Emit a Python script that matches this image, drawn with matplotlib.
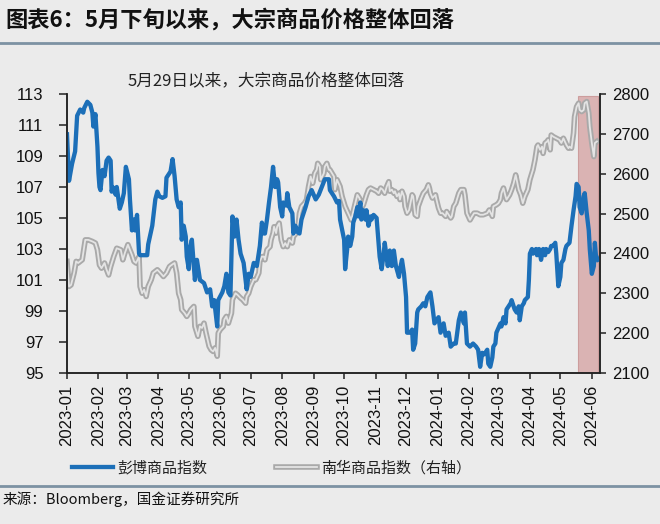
import numpy as np
import pandas as pd
import matplotlib
matplotlib.use("Agg")
import matplotlib.pyplot as plt
import matplotlib.dates as mdates
import matplotlib.patheffects as pe
from matplotlib.lines import Line2D

plt.rcParams['font.family'] = ['Liberation Sans', 'Noto Sans CJK SC', 'DejaVu Sans']

# days counted from 2023-01-01
bcom_day = [0, 2, 5, 8, 10, 13, 16, 17, 20, 23, 25, 26, 28, 30, 31, 32, 33, 35, 37, 39,
            41, 43, 44, 45, 48, 49, 52, 54, 56, 58, 61, 62, 64, 66, 67, 69, 71, 72, 75, 79,
            80, 84, 87, 89, 91, 94, 97, 98, 102, 104, 106, 108, 110, 112, 113, 115, 117, 118, 120, 121,
            123, 125, 126, 128, 131, 135, 138, 141, 143, 145, 148, 149, 153, 155, 157, 159, 161, 163, 165, 167,
            169, 171, 174, 177, 179, 181, 184, 187, 190, 192, 194, 195, 197, 199, 201, 203, 205, 207, 208, 210,
            212, 213, 216, 217, 219, 222, 223, 225, 227, 229, 231, 235, 238, 241, 245, 248, 251, 254, 258, 259,
            263, 266, 268, 269, 273, 274, 276, 277, 279, 281, 282, 284, 286, 287, 289, 290, 292, 294, 295, 297,
            299, 300, 302, 305, 308, 310, 312, 313, 316, 318, 320, 322, 324, 327, 328, 330, 332, 334, 335, 338,
            340, 341, 343, 345, 346, 349, 351, 353, 355, 358, 360, 362, 364, 366, 368, 371, 373, 376, 378, 381,
            383, 386, 388, 391, 392, 394, 397, 400, 403, 405, 407, 409, 411, 414, 415, 417, 419, 420, 422, 423,
            427, 428, 430, 432, 433, 437, 438, 440, 441, 443, 445, 446, 448, 450, 451, 454, 455, 456, 458, 459,
            462, 463, 465, 467, 469, 471, 472, 474, 476, 477, 479, 481, 482, 484, 486, 487, 489, 491, 492, 495,
            497, 499, 501, 502, 504, 505, 507, 509, 510, 512, 514, 515, 517, 519, 520, 521, 523]
bcom_val = [110.4, 107.4, 108.5, 109.3, 111.6, 112.0, 111.8, 112.1, 112.5, 112.3, 111.8, 110.9, 111.7, 109.6, 107.9, 107.0, 106.8, 108.1, 107.7, 108.7,
            108.9, 108.7, 106.7, 107.0, 106.5, 107.0, 105.6, 106.0, 106.6, 108.3, 107.5, 106.2, 104.2, 104.9, 104.2, 105.2, 102.7, 102.6, 102.6, 102.6,
            103.3, 104.5, 106.2, 106.7, 106.4, 106.3, 106.4, 107.6, 108.0, 108.8, 107.7, 106.2, 105.7, 106.0, 103.6, 104.5, 103.8, 102.5, 101.7, 103.0,
            103.6, 101.9, 101.0, 102.3, 101.0, 100.8, 100.2, 100.4, 99.3, 99.7, 98.0, 99.7, 100.2, 100.6, 101.4, 100.2, 100.0, 105.1, 103.8, 104.9,
            103.6, 102.7, 102.1, 100.4, 101.4, 101.2, 102.1, 101.9, 103.2, 104.7, 104.0, 104.0, 104.9, 106.0, 107.0, 108.3, 107.0, 107.5, 107.3, 105.7,
            105.1, 106.0, 105.8, 106.6, 105.7, 105.3, 104.0, 104.5, 104.1, 104.0, 104.9, 105.7, 106.4, 106.8, 106.2, 106.5, 107.0, 107.5, 107.5, 106.8,
            106.4, 106.0, 106.1, 104.9, 103.6, 101.7, 103.0, 103.8, 103.2, 103.8, 104.7, 105.1, 105.7, 105.1, 106.0, 104.9, 105.5, 104.9, 105.5, 104.5,
            105.1, 104.9, 105.2, 105.0, 102.5, 101.7, 102.7, 103.4, 101.9, 102.9, 101.9, 102.9, 101.9, 101.2, 101.7, 102.3, 101.4, 99.9, 97.6, 97.6,
            97.8, 96.5, 96.9, 98.9, 99.1, 99.3, 99.5, 99.3, 99.9, 100.2, 99.3, 98.2, 98.4, 98.6, 97.6, 98.2, 97.4, 97.6, 96.7, 96.9,
            96.9, 98.4, 98.9, 98.2, 98.9, 96.9, 96.7, 96.9, 96.7, 96.5, 95.4, 96.3, 96.2, 96.5, 95.6, 95.4, 96.0, 96.7, 96.9, 97.6,
            98.2, 98.0, 98.6, 98.2, 99.1, 99.5, 99.7, 99.3, 99.1, 98.9, 99.3, 98.4, 99.3, 99.5, 99.7, 99.9, 101.0, 102.7, 103.0, 102.7,
            103.0, 102.6, 103.0, 102.3, 103.0, 102.6, 103.0, 102.8, 103.0, 103.2, 103.2, 103.4, 102.7, 100.6, 101.2, 102.1, 102.3, 103.0, 103.2, 103.4,
            104.5, 105.5, 106.4, 107.2, 107.0, 105.7, 105.3, 106.4, 106.6, 105.3, 104.2, 103.0, 101.4, 101.9, 103.4, 102.6, 102.3]

nh_day = [0, 2, 4, 7, 9, 11, 15, 18, 21, 25, 28, 30, 32, 34, 37, 39, 41, 43, 46, 49,
          53, 55, 57, 60, 62, 64, 66, 68, 71, 72, 74, 76, 78, 80, 83, 85, 89, 92, 95, 98,
          101, 103, 106, 108, 110, 112, 113, 116, 118, 120, 122, 125, 126, 129, 131, 133, 135, 137, 140, 142,
          144, 146, 148, 149, 151, 154, 155, 157, 159, 162, 163, 166, 168, 171, 173, 176, 177, 179, 181, 184,
          186, 189, 190, 192, 194, 195, 197, 200, 201, 203, 204, 206, 207, 209, 211, 213, 215, 217, 219, 222,
          223, 226, 228, 229, 231, 234, 236, 238, 240, 242, 244, 246, 247, 249, 250, 253, 254, 256, 258, 259,
          263, 264, 266, 269, 271, 274, 277, 280, 282, 284, 286, 288, 291, 292, 295, 297, 299, 302, 305, 307,
          309, 311, 313, 315, 317, 318, 320, 322, 323, 325, 327, 328, 330, 332, 333, 335, 337, 340, 341, 343,
          345, 346, 349, 351, 354, 356, 357, 358, 360, 363, 364, 366, 368, 370, 373, 374, 376, 378, 379, 381,
          383, 386, 388, 391, 392, 394, 397, 399, 401, 404, 407, 410, 414, 416, 419, 420, 423, 425, 427, 428,
          430, 432, 433, 436, 438, 440, 442, 443, 445, 447, 449, 451, 454, 456, 459, 461, 463, 464, 466, 468,
          469, 471, 473, 474, 476, 477, 479, 482, 485, 487, 489, 492, 494, 495, 497, 499, 500, 502, 504, 505,
          507, 509, 510, 512, 514, 515, 517, 519, 520, 522]
nh_val = [2380, 2317, 2321, 2351, 2380, 2376, 2384, 2434, 2434, 2430, 2426, 2409, 2371, 2363, 2376, 2359, 2346, 2367, 2392, 2413,
          2409, 2384, 2401, 2422, 2409, 2396, 2380, 2376, 2392, 2317, 2300, 2309, 2292, 2317, 2334, 2351, 2359, 2351, 2342, 2351,
          2367, 2371, 2376, 2351, 2300, 2284, 2259, 2250, 2242, 2250, 2259, 2267, 2217, 2192, 2217, 2213, 2225, 2200, 2167, 2158,
          2154, 2163, 2142, 2200, 2209, 2217, 2234, 2242, 2225, 2250, 2284, 2300, 2296, 2288, 2284, 2275, 2292, 2300, 2317, 2334,
          2334, 2351, 2380, 2392, 2392, 2384, 2409, 2417, 2434, 2451, 2467, 2451, 2467, 2476, 2434, 2417, 2426, 2417, 2434, 2426,
          2442, 2451, 2476, 2501, 2518, 2526, 2535, 2568, 2593, 2576, 2601, 2610, 2626, 2618, 2585, 2601, 2618, 2626, 2610, 2610,
          2593, 2560, 2585, 2568, 2543, 2518, 2501, 2484, 2505, 2526, 2547, 2539, 2518, 2522, 2547, 2560, 2564, 2560, 2556, 2551,
          2564, 2560, 2551, 2568, 2580, 2556, 2560, 2551, 2556, 2543, 2551, 2535, 2556, 2543, 2518, 2501, 2509, 2547, 2543, 2497,
          2493, 2518, 2539, 2551, 2560, 2572, 2564, 2551, 2539, 2547, 2535, 2514, 2501, 2501, 2493, 2505, 2497, 2489, 2493, 2518,
          2526, 2551, 2560, 2560, 2547, 2501, 2484, 2493, 2501, 2501, 2497, 2497, 2501, 2509, 2493, 2518, 2522, 2526, 2535, 2551,
          2564, 2543, 2535, 2547, 2560, 2576, 2597, 2585, 2560, 2547, 2526, 2543, 2560, 2585, 2610, 2635, 2668, 2672, 2660, 2668,
          2651, 2677, 2681, 2685, 2660, 2697, 2693, 2689, 2685, 2677, 2689, 2672, 2664, 2668, 2664, 2702, 2743, 2768, 2777, 2760,
          2756, 2760, 2777, 2781, 2752, 2718, 2677, 2643, 2677, 2681]

base = pd.Timestamp("2023-01-01")
bcom_dates = base + pd.to_timedelta(bcom_day, unit="D")
nh_dates = base + pd.to_timedelta(nh_day, unit="D")

month_ticks = pd.date_range("2023-01-01", "2024-06-01", freq="MS")
shade_start = pd.Timestamp("2024-05-18")
shade_end = pd.Timestamp("2024-06-07")

bg = '#ebebeb'
blue = '#1c6fb8'

fig = plt.figure(figsize=(6.6, 5.24), dpi=100, facecolor=bg)
ax = fig.add_axes([0.1015, 0.2882, 0.8075, 0.5324])
ax2 = ax.twinx()
ax.set_zorder(ax2.get_zorder() + 1)
ax.patch.set_visible(False)
ax2.patch.set_facecolor(bg)

ax2.axvspan(shade_start, shade_end, ymin=0, ymax=0.993, facecolor='#d7a9a9', edgecolor='#c99595',
            alpha=0.85, lw=0.8, zorder=0)

ax2.plot(nh_dates, nh_val, color='#e4e4e4', lw=1.3, solid_joinstyle='round',
         path_effects=[pe.Stroke(linewidth=4.0, foreground='#a9a9a9'), pe.Normal()],
         label='南华商品指数（右轴）')
ax.plot(bcom_dates, bcom_val, color=blue, lw=3.1, solid_joinstyle='round', label='彭博商品指数')

ax.set_xlim(base, pd.Timestamp("2024-06-09"))
ax.set_ylim(95, 113)
ax.set_yticks(np.arange(95, 114, 2))
ax2.set_ylim(2100, 2800)
ax2.set_yticks(np.arange(2100, 2801, 100))

ax.set_xticks(month_ticks)
ax.xaxis.set_major_formatter(mdates.DateFormatter('%Y-%m'))
for lab in ax.get_xticklabels():
    lab.set_rotation(90)

for a in (ax, ax2):
    a.spines['top'].set_visible(False)
    for s in ('left', 'right', 'bottom'):
        a.spines[s].set_color('#222222')
        a.spines[s].set_linewidth(1.1)
    a.tick_params(length=4, width=1.1, color='#222222', labelsize=12, labelcolor='#111111', pad=3)
ax.tick_params(axis='y', length=5.5, pad=11.5)
ax.tick_params(axis='x', pad=4.5)
ax2.tick_params(axis='y', pad=4.5)

fig.text(0.008, 0.962, '图表6：5月下旬以来，大宗商品价格整体回落', fontsize=16, fontweight='bold',
         family=['Noto Sans CJK SC', 'DejaVu Sans'], va='center', ha='left', color='#111111')
fig.add_artist(Line2D([0, 1], [1 - 42.5 / 524] * 2, color='#7d92a3', lw=2))
fig.add_artist(Line2D([0, 1], [1 - 486 / 524] * 2, color='#7d92a3', lw=2))

fig.text(0.403, 1 - 82 / 524, '5月29日以来，大宗商品价格整体回落', fontsize=12,
         family=['Noto Sans CJK SC', 'DejaVu Sans'], va='center', ha='center', color='#222222')

h1, l1 = ax.get_legend_handles_labels()
h2, l2 = ax2.get_legend_handles_labels()
leg = fig.legend(h1 + h2, l1 + l2, loc='center', bbox_to_anchor=(0.412, 1 - 468 / 524), ncol=2,
                 frameon=False, handlelength=2.7, columnspacing=4.6, handletextpad=0.3,
                 prop={'family': ['Noto Sans CJK SC', 'DejaVu Sans'], 'size': 10.8})
for t in leg.get_texts():
    t.set_color('#222222')

fig.text(0.004, 1 - 499 / 524, '来源：Bloomberg，国金证券研究所', fontsize=10.5,
         family=['Noto Sans CJK SC', 'DejaVu Sans'], va='center', ha='left', color='#111111')

fig.savefig('out.png', dpi=100, facecolor=bg)
